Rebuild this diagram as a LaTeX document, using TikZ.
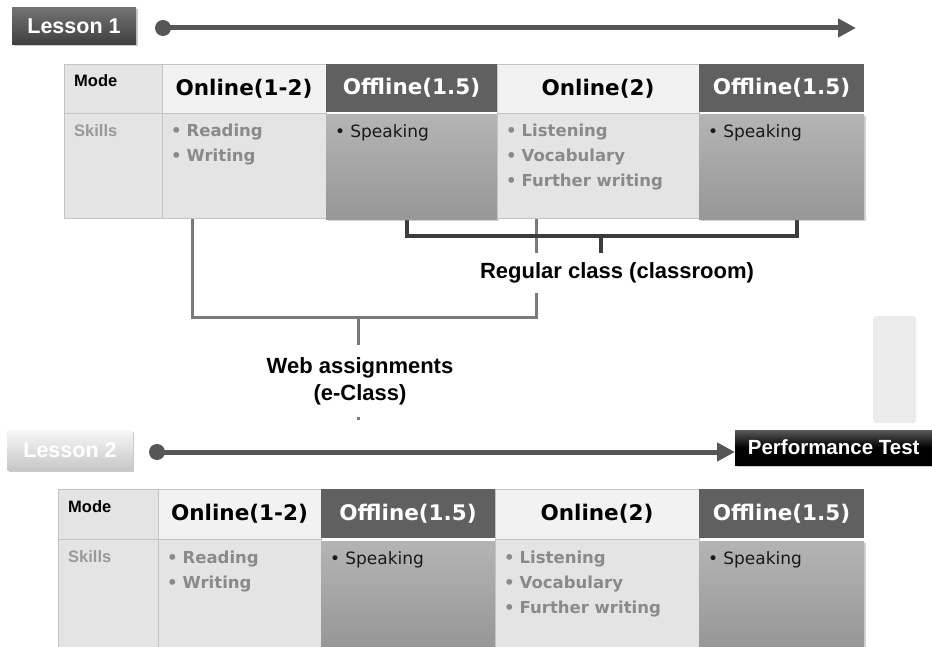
\documentclass[tikz,border=0pt]{standalone}
\usepackage{fontspec}
\setmainfont{DejaVu Sans}
\newfontfamily\lblfont{Liberation Sans}
\usetikzlibrary{arrows.meta,positioning,backgrounds,shadows}
\definecolor{lsGrid}{HTML}{C4C4C4}
\definecolor{lsOnHead}{HTML}{F2F2F2}
\definecolor{lsOnSkill}{HTML}{E4E4E4}
\definecolor{lsOffHead}{HTML}{606060}
\definecolor{lsOffTop}{HTML}{B4B4B4}
\definecolor{lsOffBot}{HTML}{979797}
\definecolor{lsOnText}{HTML}{8A8A8A}
\definecolor{lsLine}{HTML}{565656}
\definecolor{lsWeb}{HTML}{7A7A7A}
\definecolor{lsReg}{HTML}{3C3C3C}
\providecommand{\lsItem}{\textbullet\hspace{0.3em}}
\tikzset{
  >={Triangle[length=18pt,width=18pt]},
  cell/.style 2 args={draw=lsGrid,line width=0.8pt,fill=lsOnSkill,minimum width=#1,minimum height=#2,inner sep=0pt,outer sep=0pt,anchor=north west},
  onhead/.style 2 args={cell={#1}{#2},fill=lsOnHead,font=\fontsize{21.5}{24}\selectfont\bfseries},
  offhead/.style 2 args={cell={#1}{#2},draw=none,fill=lsOffHead,text=white,font=\fontsize{21.5}{24}\selectfont\bfseries},
  offskill/.style 2 args={cell={#1}{#2},draw=none,top color=lsOffTop,bottom color=lsOffBot,
    drop shadow={shadow xshift=1.5pt,shadow yshift=-1.5pt,opacity=.35}},
  rowlbl/.style={inner sep=0pt,font=\lblfont\fontsize{16.5}{18}\selectfont\bfseries},
  ontxt/.style={inner sep=0pt,align=left,text=lsOnText,font=\fontsize{16.5}{25}\selectfont\bfseries},
  offtxt/.style={inner sep=0pt,align=left,text=black!90,font=\fontsize{17}{25}\selectfont},
  % lesson tag: top / bottom colour of the gradient
  lessonbox/.style 2 args={top color=#1,bottom color=#2,text=white,minimum width=124pt,minimum height=37pt,inner sep=0pt,
    font=\lblfont\fontsize{21.5}{24}\selectfont\bfseries,drop shadow={shadow xshift=1.5pt,shadow yshift=-2pt,opacity=.4}},
  perfbox/.style={top color=black!65,bottom color=black,middle color=black,text=white,minimum width=197pt,minimum height=35pt,
    inner sep=0pt,anchor=west,font=\lblfont\fontsize{20.5}{24}\selectfont\bfseries,drop shadow={shadow xshift=1.5pt,shadow yshift=-2pt,opacity=.4}},
  dotnode/.style={circle,fill=lsLine,minimum size=16pt,inner sep=0pt},
  tline/.style={->,line width=5pt,draw=lsLine},
  gbar/.style={fill=black!8,minimum width=43pt,minimum height=107pt,rounded corners=3pt,inner sep=0pt,anchor=north west},
  lbl/.style={fill=white,font=\lblfont\fontsize{22}{27}\selectfont\bfseries,align=center},
  webline/.style={line width=3pt,draw=lsWeb},
  regline/.style={line width=3.5pt,draw=lsReg},
}

\begin{document}
\begin{tikzpicture}[x=1pt,y=-1pt]
\useasboundingbox (0,0) rectangle (932,647);

% --- Lesson 1 -------------------------------------------------------------

  \node[lessonbox={black!55}{black!75}] (lsn1) at (74,26) {Lesson 1};
  \node[dotnode] (dot1) at (163,28) {};
  \coordinate (end1) at (856,28);

  \node[cell={98pt}{49pt}] (md1) at (64,64) {};
  \node[onhead={164pt}{49pt}] (hd1_1) at (162,64) {Online(1-2)};
  \node[offhead={171pt}{48pt}] (hd1_2) at (326,64) {Offline(1.5)};
  \node[onhead={202pt}{49pt}] (hd1_3) at (497,64) {Online(2)};
  \node[offhead={165pt}{48pt}] (hd1_4) at (699,64) {Offline(1.5)};

  \node[cell={98pt}{105pt}] (sl1) at (64,113) {};
  \node[cell={164pt}{105pt}] (sk1_1) at (162,113) {};
  \node[offskill={171pt}{105pt}] (sk1_2) at (326,115) {};
  \node[cell={202pt}{105pt}] (sk1_3) at (497,113) {};
  \node[offskill={165pt}{105pt}] (sk1_4) at (699,115) {};

  \node[rowlbl,anchor=north west,below right=10pt and 10pt of md1.north west] (mdt1) {Mode};
  \node[rowlbl,anchor=north west,text=black!40,below right=11pt and 10pt of sl1.north west] (slt1) {Skills};
  \node[ontxt,below right=11pt and 9pt of sk1_1.north west] (skt1_1) {\lsItem Reading\\\lsItem Writing};
  \node[offtxt,below right=9pt and 9pt of sk1_2.north west] (skt1_2) {\lsItem Speaking};
  \node[ontxt,below right=11pt and 9pt of sk1_3.north west] (skt1_3) {\lsItem Listening\\\lsItem Vocabulary\\\lsItem Further writing};
  \node[offtxt,below right=9pt and 9pt of sk1_4.north west] (skt1_4) {\lsItem Speaking};

% --- Bracket labels ---------------------------------------------------------

  \node[lbl,inner xsep=2pt,minimum height=39pt,inner ysep=0pt] (reg) at (617,273) {Regular class (classroom)};
  \node[lbl,inner xsep=2pt,inner ysep=12pt] (web) at (360,381) {Web assignments\\(e-Class)};

  \coordinate (reg_a) at (407,218);
  \coordinate (reg_b) at (797,218);
  \coordinate (reg_j) at (601,236);
  \coordinate (web_a) at (192,218);
  \coordinate (web_b) at (536,218);
  \coordinate (web_j) at (358,317);
  \coordinate (web_e) at (358,420);

% --- Lesson 2 -------------------------------------------------------------

  \node[gbar] (pad) at (873,316) {};

  \node[lessonbox={black!3}{black!22},minimum width=125pt,minimum height=40pt] (lsn2) at (70,450) {Lesson 2};
  \node[dotnode] (dot2) at (157,452) {};
  \node[perfbox] (perf) at (735,447.5) {Performance Test};

  \node[cell={100pt}{50pt}] (md2) at (58,489) {};
  \node[onhead={163pt}{50pt}] (hd2_1) at (158,489) {Online(1-2)};
  \node[offhead={174pt}{49pt}] (hd2_2) at (321,489) {Offline(1.5)};
  \node[onhead={204pt}{50pt}] (hd2_3) at (495,489) {Online(2)};
  \node[offhead={165pt}{49pt}] (hd2_4) at (699,489) {Offline(1.5)};

  \node[cell={100pt}{108pt}] (sl2) at (58,539) {};
  \node[cell={163pt}{108pt}] (sk2_1) at (158,539) {};
  \node[offskill={174pt}{106pt}] (sk2_2) at (321,541) {};
  \node[cell={204pt}{108pt}] (sk2_3) at (495,539) {};
  \node[offskill={165pt}{106pt}] (sk2_4) at (699,541) {};

  \node[rowlbl,anchor=north west,below right=11pt and 10pt of md2.north west] (mdt2) {Mode};
  \node[rowlbl,anchor=north west,text=black!40,below right=11pt and 10pt of sl2.north west] (slt2) {Skills};
  \node[ontxt,below right=12pt and 9pt of sk2_1.north west] (skt2_1) {\lsItem Reading\\\lsItem Writing};
  \node[offtxt,below right=10pt and 9pt of sk2_2.north west] (skt2_2) {\lsItem Speaking};
  \node[ontxt,below right=12pt and 9pt of sk2_3.north west] (skt2_3) {\lsItem Listening\\\lsItem Vocabulary\\\lsItem Further writing};
  \node[offtxt,below right=10pt and 9pt of sk2_4.north west] (skt2_4) {\lsItem Speaking};

% --- Edges -----------------------------------------------------------------

\begin{scope}[on background layer]
  \draw[tline] (dot1.center) -- (end1);
  \draw[tline] (dot2.center) -- (dot2 -| perf.west);

  \draw[webline] (web_a) |- (web_j) -| (web_b);
  \draw[webline] (web_j) -- (web_e);

  \draw[regline] (reg_a) |- (reg_j) -| (reg_b);
  \draw[regline] (reg_j) -- (reg_j |- reg.north);
\end{scope}

\end{tikzpicture}
\end{document}
